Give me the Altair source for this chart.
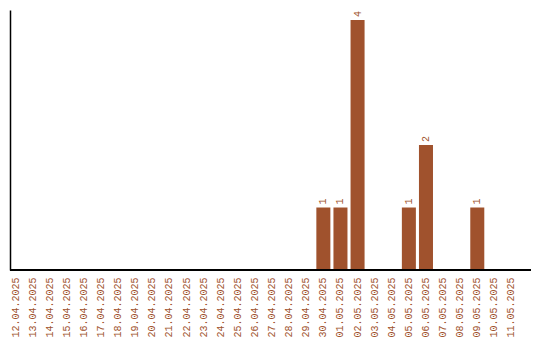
import altair as alt
import pandas as pd

dates = ["12.04.2025", "13.04.2025", "14.04.2025", "15.04.2025", "16.04.2025",
         "17.04.2025", "18.04.2025", "19.04.2025", "20.04.2025", "21.04.2025",
         "22.04.2025", "23.04.2025", "24.04.2025", "25.04.2025", "26.04.2025",
         "27.04.2025", "28.04.2025", "29.04.2025", "30.04.2025", "01.05.2025",
         "02.05.2025", "03.05.2025", "04.05.2025", "05.05.2025", "06.05.2025",
         "07.05.2025", "08.05.2025", "09.05.2025", "10.05.2025", "11.05.2025"]
counts = [0, 0, 0, 0, 0, 0, 0, 0, 0, 0,
          0, 0, 0, 0, 0, 0, 0, 0, 1, 1,
          4, 0, 0, 1, 2, 0, 0, 1, 0, 0]

df = pd.DataFrame({"date": dates, "count": counts})

COLOR = "#A0522D"
FONT = "Liberation Mono"

x = alt.X("date:N", sort=dates, title=None,
          scale=alt.Scale(range=[-1.5, 508.5], paddingInner=0.18, paddingOuter=0),
          axis=alt.Axis(labelAngle=270, labelAlign="right", labelBaseline="middle",
                        ticks=False, labelPadding=7, labelColor=COLOR,
                        labelFont=FONT, labelFontSize=10, domain=False,
                        grid=False, labelOverlap=False))
y = alt.Y("count:Q", title=None,
          scale=alt.Scale(domain=[0, 4.16], nice=False, zero=True),
          axis=alt.Axis(labels=False, ticks=False, grid=False,
                        domainColor="black", domainWidth=1.5))

bars = alt.Chart(df).mark_bar(color=COLOR).encode(x=x, y=y)

texts = alt.Chart(df).transform_filter("datum.count > 0").mark_text(
    angle=270, align="left", baseline="middle", dx=3,
    font=FONT, fontSize=10, color=COLOR
).encode(x=alt.X("date:N", sort=dates), y="count:Q", text="count:Q")

baseline = alt.Chart(df).mark_rule(color="black", strokeWidth=1.5).encode(
    x=alt.value(0), x2=alt.value(521), y=alt.value(260)
)

chart = (bars + texts + baseline).properties(
    width=521, height=260,
    autosize=alt.AutoSizeParams(type="none"),
    padding={"left": 10, "top": 10, "right": 9, "bottom": 70},
    background="white",
).configure_view(stroke=None)

chart.save("out.html", embed_options={"renderer": "svg", "actions": False})
